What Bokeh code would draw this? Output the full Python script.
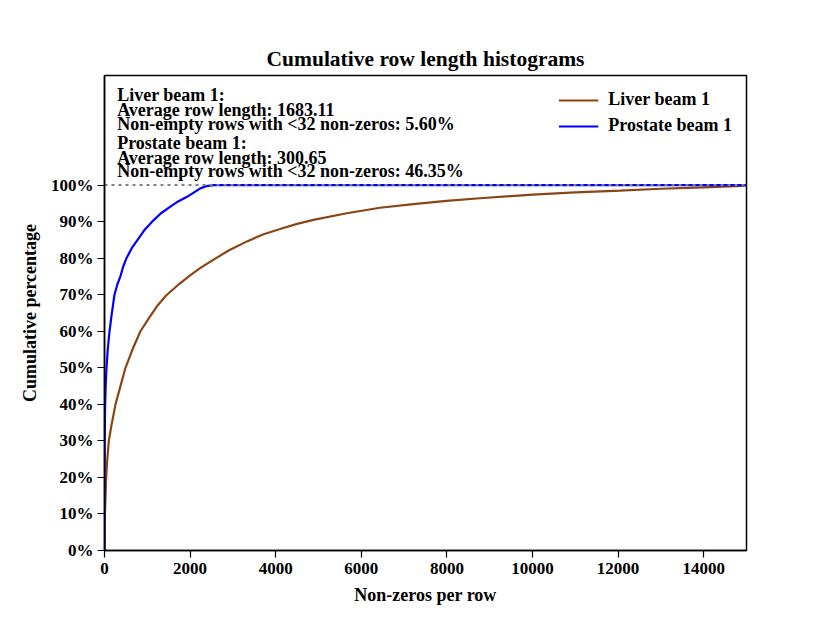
from bokeh.plotting import figure
from bokeh.models import (Range1d, FixedTicker, PrintfTickFormatter, Legend, LegendItem,
                          Label)
from bokeh.embed import file_html
from bokeh.resources import INLINE

FONT = "Liberation Serif"

# ---- data ----
liver_x = [0, 3, 10, 23, 39, 62, 101, 163, 257, 357, 490, 660, 840, 1073, 1250, 1440,
           1750, 2000, 2250, 2550, 2900, 3328, 3700, 4104, 4500, 4882, 5660, 6436,
           7214, 7992, 8769, 10000, 11000, 12040, 13000, 14000, 14900, 15000]
liver_y = [0, 6.0, 10.0, 14.4, 20.0, 24.4, 30.0, 34.3, 40.0, 44.3, 50.0, 55.2, 60.0,
           64.2, 67.2, 69.8, 73.0, 75.3, 77.4, 79.6, 82.1, 84.6, 86.5, 88.0, 89.4,
           90.5, 92.3, 93.8, 94.8, 95.7, 96.4, 97.4, 98.0, 98.5, 99.0, 99.4, 99.8,
           100.0]
prostate_x = [0, 2, 5, 10, 15, 31, 47, 77, 117, 163, 233, 300, 373, 440, 513, 640,
              777, 940, 1112, 1320, 1539, 1730, 1928, 2239, 2380, 2550, 15000]
prostate_y = [0, 20, 30, 36, 40, 46.1, 50, 55.2, 60, 64.2, 70, 72.8, 75.1, 77.8, 80,
              82.8, 85.1, 87.8, 90.0, 92.3, 94.1, 95.6, 96.8, 99.1, 99.7, 100, 100]
series_names = ["Liver beam 1", "Prostate beam 1"]
x_ticks = [0, 2000, 4000, 6000, 8000, 10000, 12000, 14000]
y_ticks = [0, 10, 20, 30, 40, 50, 60, 70, 80, 90, 100]
info_lines = [
    ["Liver beam 1:", "Average row length: 1683.11",
     "Non-empty rows with <32 non-zeros: 5.60%"],
    ["Prostate beam 1:", "Average row length: 300.65",
     "Non-empty rows with <32 non-zeros: 46.35%"],
]

p = figure(width=814, height=607, output_backend="svg", toolbar_location=None,
           x_range=Range1d(0, 15000), y_range=Range1d(0, 130),
           min_border_left=104, min_border_right=68, min_border_top=75,
           min_border_bottom=54)
p.title.text = "Cumulative row length histograms"
p.title.align = "center"
p.title.text_font = FONT
p.title.text_font_size = "21.5px"
p.title.text_font_style = "bold"
p.title.text_color = "black"
p.title.standoff = 10

p.grid.visible = False
p.outline_line_color = "black"
p.outline_line_width = 1.5
p.outline_line_alpha = 1.0

for ax in (p.xaxis[0], p.yaxis[0]):
    ax.axis_line_color = "black"
    ax.axis_line_width = 1.5
    ax.major_tick_line_color = "black"
    ax.major_tick_line_width = 1.2
    ax.major_tick_in = 0
    ax.major_tick_out = 7
    ax.minor_tick_line_color = None
    ax.major_label_text_font = FONT
    ax.major_label_text_font_style = "bold"
    ax.major_label_text_font_size = "17px"
    ax.major_label_text_color = "black"
    ax.axis_label_text_font = FONT
    ax.axis_label_text_font_style = "bold"
    ax.axis_label_text_font_size = "18px"
    ax.axis_label_text_color = "black"

p.xaxis.ticker = FixedTicker(ticks=x_ticks)
p.yaxis.ticker = FixedTicker(ticks=y_ticks)
p.yaxis.formatter = PrintfTickFormatter(format="%d%%")
p.xaxis.axis_label = "Non-zeros per row"
p.yaxis.axis_label = "Cumulative percentage"
p.xaxis.major_label_standoff = 5
p.yaxis.major_label_standoff = 4
p.xaxis.axis_label_standoff = 8
p.yaxis.axis_label_standoff = 8

r1 = p.line(liver_x, liver_y, line_color="#8B4513", line_width=2.2)
r2 = p.line(prostate_x, prostate_y, line_color="#0000FF", line_width=2.2)
p.line([0, 15000], [100, 100], line_color="gray", line_width=2, line_dash="3 4")

legend = Legend(items=[LegendItem(label=series_names[0], renderers=[r1]),
                       LegendItem(label=series_names[1], renderers=[r2])],
                location="top_right")
legend.border_line_alpha = 0
legend.background_fill_alpha = 0
legend.label_text_font = FONT
legend.label_text_font_style = "bold"
legend.label_text_font_size = "18px"
legend.label_text_color = "black"
legend.glyph_width = 40
legend.glyph_height = 20
legend.label_height = 20
legend.label_standoff = 10
legend.spacing = 5
legend.margin = 4
legend.padding = 10
p.add_layout(legend)

# info text, baselines in data units
baselines = [[124.7, 120.6, 116.8], [111.6, 107.5, 103.8]]
for block, ys in zip(info_lines, baselines):
    for line, yy in zip(block, ys):
        p.add_layout(Label(x=296, y=yy, text=line, text_font=FONT,
                           text_font_style="bold", text_font_size="18px",
                           text_baseline="alphabetic", text_color="black"))

open("out.html", "w").write(file_html(p, INLINE))
